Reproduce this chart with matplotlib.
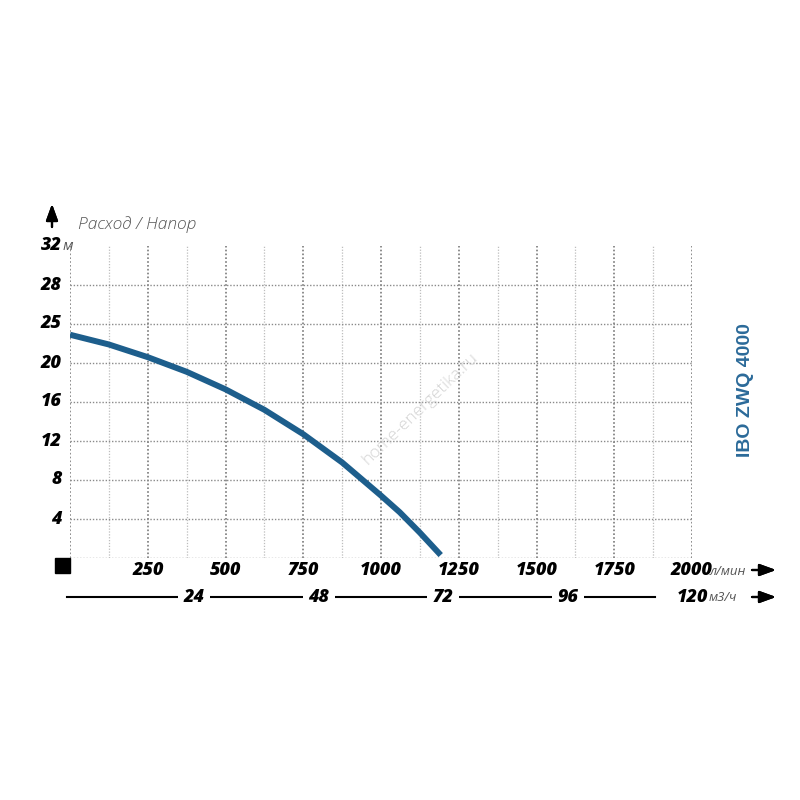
import matplotlib.pyplot as plt
import matplotlib.transforms as mtransforms

# Data
flow_lpm = [0, 125, 250, 375, 500, 625, 750, 875, 1000, 1060, 1125, 1192]
head_m = [22.9, 21.9, 20.6, 19.1, 17.3, 15.2, 12.7, 9.8, 6.4, 4.7, 2.6, 0.3]

x_ticks = [250, 500, 750, 1000, 1250, 1500, 1750, 2000]
x_labels = ['250', '500', '750', '1000', '1250', '1500', '1750', '2000']
y_ticks = [4, 8, 12, 16, 20, 24, 28, 32]
y_labels = ['4', '8', '12', '16', '20', '25', '28', '32']
m3h_ticks = [24, 48, 72, 96, 120]
m3h_labels = ['24', '48', '72', '96', '120']

curve_color = '#1d5e8c'
font = 'Open Sans'

fig = plt.figure(figsize=(8, 8), dpi=100)
ax = fig.add_axes([70 / 800, 1 - 558 / 800, 622 / 800, 312 / 800])
ax.set_xlim(0, 2000)
ax.set_ylim(0, 32)
for s in ax.spines.values():
    s.set_visible(False)
ax.set_xticks([])
ax.set_yticks([])

# grid
for x in range(0, 2001, 125):
    major = x % 250 == 0
    ax.plot([x, x], [0, 32], ls=(0, (1, 1.3)), lw=1.2 if major else 0.9,
            color='#7a7a7a' if major else '#bdbdbd', zorder=1)
for y in [0] + y_ticks[:-1]:
    ax.plot([0, 2000], [y, y], ls=(0, (1, 1.3)), lw=1.0, color='#8a8a8a', zorder=1)

# pump curve
ax.plot(flow_lpm, head_m, color=curve_color, lw=4.3, solid_capstyle='butt',
        solid_joinstyle='round', zorder=3)

# watermark
ax.text(1125, 15.3, 'home-energetika.ru', rotation=44, fontsize=12.5, family=font,
        weight='light', color='#d4d4d4', ha='center', va='center', zorder=2)

# y labels
ytr = mtransforms.blended_transform_factory(ax.transAxes, ax.transData)
for v, lab in zip(y_ticks, y_labels):
    ax.text(-0.013, v, lab, transform=ytr, ha='right', va='center', fontsize=13,
            family=font, weight='heavy', style='italic')
ax.text(-0.012, 31.9, 'м', transform=ytr, ha='left', va='center', fontsize=11,
        family=font, style='italic', color='#555555')

# x labels (l/min)
xtr = mtransforms.blended_transform_factory(ax.transData, ax.transAxes)
for v, lab in zip(x_ticks, x_labels):
    ax.text(v, -0.04, lab, transform=xtr, ha='center', va='center', fontsize=13,
            family=font, weight='heavy', style='italic')
ax.text(2000 + 58, -0.042, 'л/мин', transform=xtr, ha='left', va='center',
        fontsize=9.5, family=font, style='italic', color='#555555')

# second scale (m3/h)
ax.plot([-10, 1880], [-0.125, -0.125], transform=xtr, color='black', lw=1.5,
        clip_on=False, zorder=2)
for v, lab in zip(m3h_ticks, m3h_labels):
    pos = v * 1000 / 60
    ax.text(pos, -0.125, lab, transform=xtr, ha='center', va='center', fontsize=13,
            family=font, weight='heavy', style='italic',
            bbox=dict(boxstyle='square,pad=0.3', fc='white', ec='none'), zorder=3)
    ax.plot([pos + 18, pos + 18], [-0.083, -0.098], transform=xtr, color='black',
            lw=1.2, clip_on=False)
ax.text(2000 + 55, -0.128, 'м3/ч', transform=xtr, ha='left', va='center',
        fontsize=9.5, family=font, style='italic', color='#555555', zorder=4,
        bbox=dict(boxstyle='square,pad=0.1', fc='white', ec='none'))

# arrows
arrow = dict(arrowstyle='-|>,head_length=1.1,head_width=0.4', color='black', lw=1.6,
             mutation_scale=9, shrinkA=0, shrinkB=0)
fig.add_artist(plt.annotate('', xy=(52 / 800, 1 - 204 / 800), xytext=(52 / 800, 1 - 227 / 800),
                            xycoords='figure fraction', arrowprops=arrow))
for yy in [570, 597]:
    fig.add_artist(plt.annotate('', xy=(776 / 800, 1 - yy / 800), xytext=(752 / 800, 1 - yy / 800),
                                xycoords='figure fraction', arrowprops=arrow))

# black square at origin
fig.patches.append(plt.Rectangle((55 / 800, 1 - 573 / 800), 15 / 800, 15 / 800,
                                 transform=fig.transFigure, color='black'))

# titles
fig.text(78 / 800, 1 - 225 / 800, 'Расход / Напор', fontsize=12.5, family=font,
         style='italic', weight='light', color='#555555', va='center')
fig.text(745 / 800, 1 - 390 / 800, 'IBO ZWQ 4000', rotation=90, fontsize=14,
         family='Liberation Sans', weight='bold', color='#2b6a99', ha='center', va='center')

fig.savefig('out.png', dpi=100)
